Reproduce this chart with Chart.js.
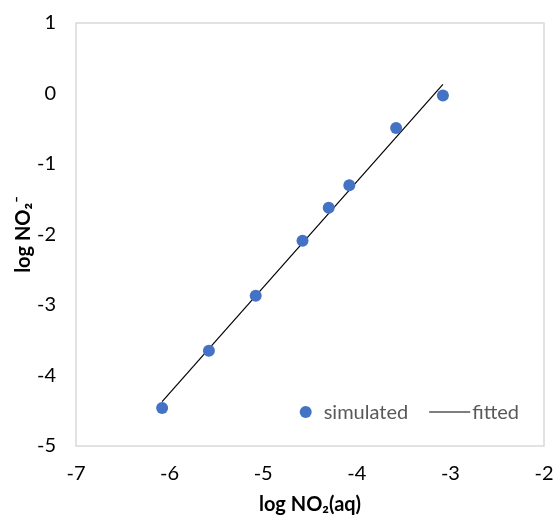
<!DOCTYPE html>
<html><head><meta charset="utf-8">
<script src="https://cdn.jsdelivr.net/npm/chart.js@4/dist/chart.umd.min.js"></script>
<style>html,body{margin:0;padding:0;background:#fff}#wrap{width:554px;height:515px}</style>
</head><body><div id="wrap"><canvas id="c" width="554" height="515"></canvas></div>
<script>
// ---- data ----
const xSimulated = [-6.08, -5.58, -5.08, -4.58, -4.30, -4.08, -3.58, -3.08];
const ySimulated = [-4.46, -3.65, -2.87, -2.09, -1.62, -1.30, -0.49, -0.03];
const xFitted = [-6.08, -3.08];
const yFitted = [-4.37, 0.13];
const xTickValues = [-7, -6, -5, -4, -3, -2];
const yTickValues = [-5, -4, -3, -2, -1, 0, 1];
const seriesNames = ['simulated', 'fitted'];
const xTitle = 'log NO\u2082(aq)';
const yTitle = 'log NO\u2082\u207B';

const FONT = 'Lato, "Open Sans", "DejaVu Sans", sans-serif';
const BLUE = '#4472C4';

const frame = {
  id: 'frame',
  beforeDatasetsDraw(chart) {
    const a = chart.chartArea, ctx = chart.ctx;
    ctx.save();
    ctx.strokeStyle = '#d9d9d9';
    ctx.lineWidth = 1.5;
    ctx.strokeRect(a.left, a.top, a.right - a.left, a.bottom - a.top);
    ctx.restore();
  }
};

const insideLegend = {
  id: 'insideLegend',
  afterDraw(chart) {
    const a = chart.chartArea, ctx = chart.ctx;
    const ds = chart.data.datasets;
    ctx.save();
    ctx.font = '20px ' + FONT;
    ctx.textBaseline = 'middle';
    const w0 = ctx.measureText(ds[0].label).width;
    const w1 = ctx.measureText(ds[1].label).width;
    const total = 12 + 12 + w0 + 21 + 41 + 2 + w1;
    let x = a.right - 25 - total;
    const y = a.bottom - 34;
    ctx.fillStyle = ds[0].backgroundColor;
    ctx.beginPath(); ctx.arc(x + 6, y, 6, 0, Math.PI * 2); ctx.fill();
    x += 24;
    ctx.fillStyle = '#595959';
    ctx.fillText(ds[0].label, x, y + 1);
    x += w0 + 21;
    ctx.strokeStyle = ds[1].borderColor; ctx.lineWidth = 1.2;
    ctx.beginPath(); ctx.moveTo(x, y); ctx.lineTo(x + 41, y); ctx.stroke();
    x += 43;
    ctx.fillText(ds[1].label, x, y + 1);
    ctx.restore();
  }
};

function noPad(s) { s.paddingTop = 0; s.paddingBottom = 0; s.paddingLeft = 0; s.paddingRight = 0; }

new Chart(document.getElementById('c'), {
  type: 'scatter',
  data: {
    datasets: [
      {
        label: seriesNames[0],
        data: xSimulated.map((x, i) => ({x, y: ySimulated[i]})),
        backgroundColor: BLUE, borderColor: BLUE,
        pointRadius: 6, pointHoverRadius: 6, borderWidth: 0,
        order: 1
      },
      {
        label: seriesNames[1],
        data: xFitted.map((x, i) => ({x, y: yFitted[i]})),
        type: 'line', showLine: true,
        borderColor: '#000000', backgroundColor: '#000000',
        borderWidth: 1.2, pointRadius: 0, fill: false,
        order: 2
      }
    ]
  },
  options: {
    responsive: false, animation: false, devicePixelRatio: 1,
    layout: { padding: { left: 0, top: 23, right: 10, bottom: 0 } },
    plugins: { legend: { display: false }, tooltip: { enabled: false } },
    scales: {
      x: {
        type: 'linear', min: -7, max: -2,
        afterBuildTicks: s => { s.ticks = xTickValues.map(v => ({value: v})); },
        afterFit: s => { s.height = 69; noPad(s); },
        grid: { display: false, drawTicks: false },
        border: { display: false },
        ticks: { color: '#000', font: { family: FONT, size: 20 }, padding: 16 },
        title: { display: true, text: xTitle, color: '#000',
                 font: { family: FONT, size: 20, weight: 'bold', lineHeight: 1 },
                 padding: { top: 0, bottom: 0 } }
      },
      y: {
        type: 'linear', min: -5, max: 1,
        afterBuildTicks: s => { s.ticks = yTickValues.map(v => ({value: v})); },
        afterFit: s => { s.width = 76; noPad(s); },
        grid: { display: false, drawTicks: false },
        border: { display: false },
        ticks: { color: '#000', font: { family: FONT, size: 20 }, padding: 20 },
        title: { display: true, text: yTitle, color: '#000',
                 font: { family: FONT, size: 20, weight: 'bold', lineHeight: 1 },
                 padding: { top: 14, bottom: 0 } }
      }
    }
  },
  plugins: [frame, insideLegend]
});
</script></body></html>
